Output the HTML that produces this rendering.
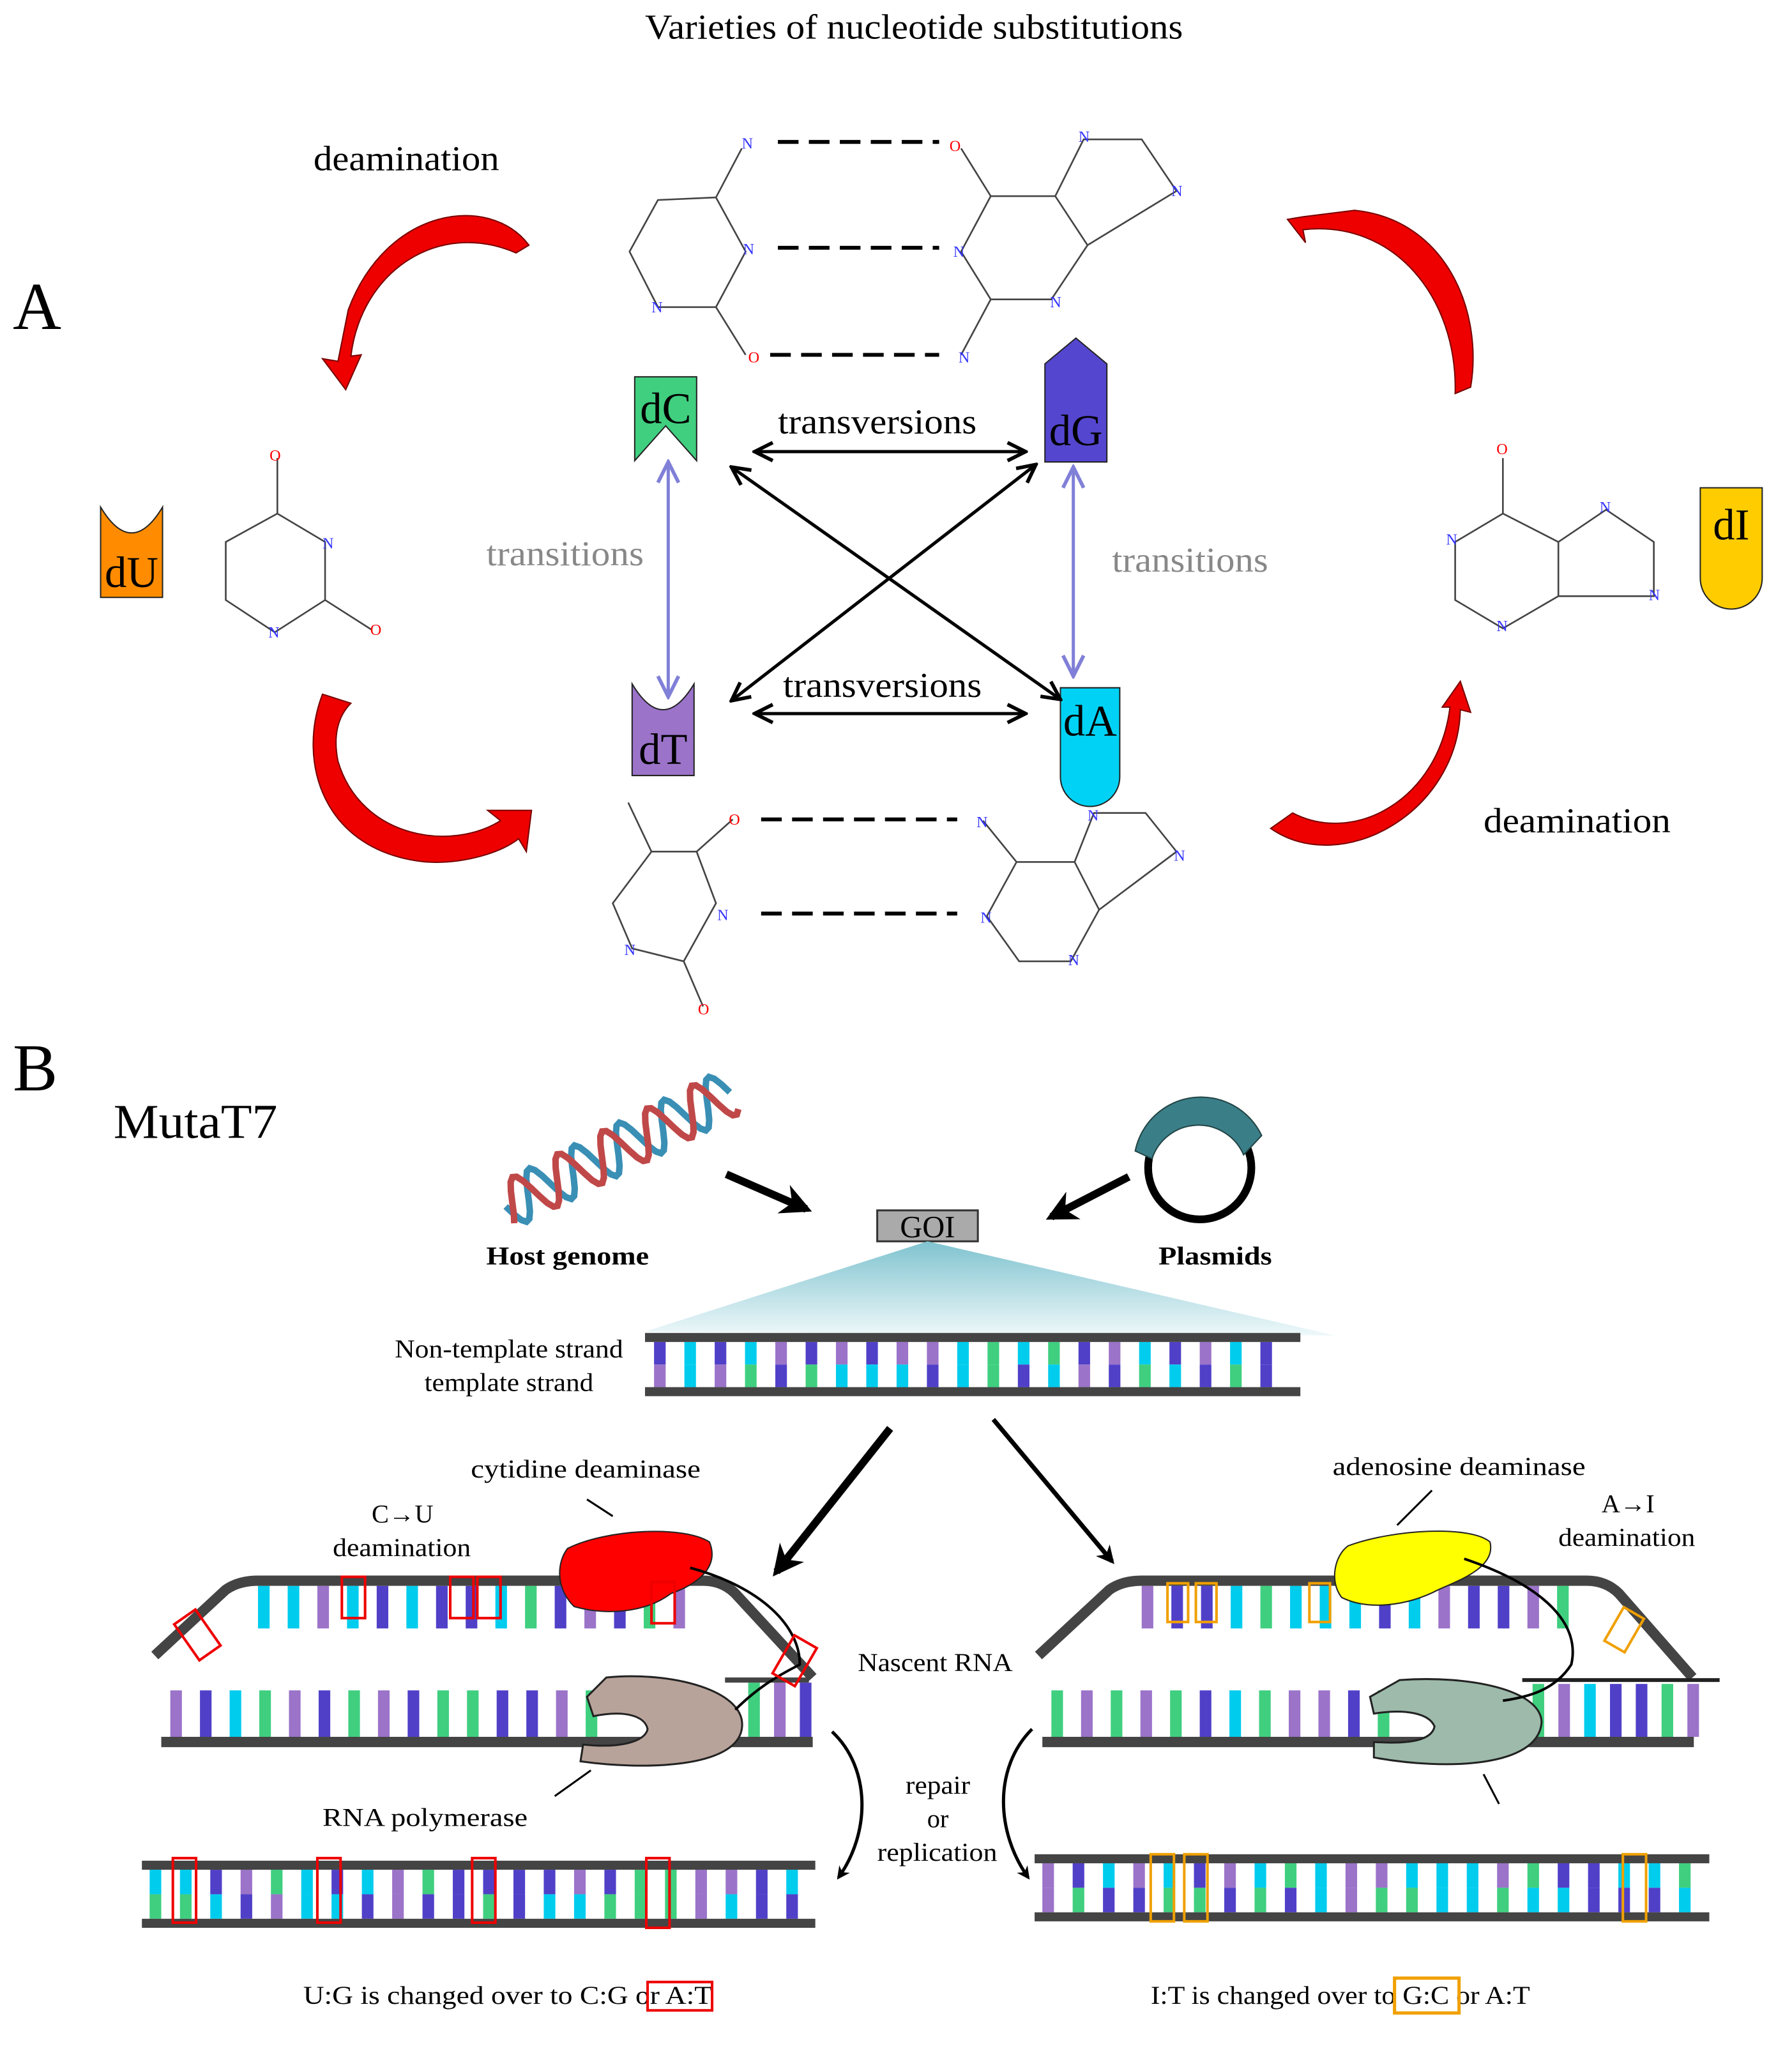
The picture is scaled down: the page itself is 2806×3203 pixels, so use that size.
<!DOCTYPE html>
<html><head><meta charset="utf-8"><style>
html,body{margin:0;padding:0;background:#fff;}
svg{display:block;}
text{font-family:"Liberation Serif",serif;}
</style></head><body>
<svg id="s" xmlns="http://www.w3.org/2000/svg" width="2806" height="3203" viewBox="0 0 1389.1 1585.6" preserveAspectRatio="none">
<defs>
<linearGradient id="tri" x1="0" y1="0" x2="0" y2="1"><stop offset="0" stop-color="#7fc3cf"/><stop offset="1" stop-color="#eef8fa"/></linearGradient>
<marker id="ah" viewBox="0 0 10 10" refX="9" refY="5" markerWidth="7" markerHeight="7" orient="auto-start-reverse"><path d="M1 1 L9 5 L1 9" fill="none" stroke="#000" stroke-width="1.6"/></marker>
<marker id="ab" viewBox="0 0 10 10" refX="9" refY="5" markerWidth="8" markerHeight="8" orient="auto-start-reverse"><path d="M1 1 L9 5 L1 9" fill="none" stroke="#8080d8" stroke-width="1.4"/></marker>
<marker id="af" viewBox="0 0 10 10" refX="8" refY="5" markerWidth="4" markerHeight="4" orient="auto"><path d="M0 0 L10 5 L0 10 L3 5z" fill="#000"/></marker>
</defs>
<text x="500" y="30" font-size="27" textLength="417" lengthAdjust="spacingAndGlyphs">Varieties of nucleotide substitutions</text>
<text x="10" y="255" font-size="52">A</text>
<text x="10" y="845" font-size="52">B</text>
<text x="243" y="132" font-size="27" textLength="144" lengthAdjust="spacingAndGlyphs">deamination</text>
<text x="1150" y="645" font-size="27" textLength="145" lengthAdjust="spacingAndGlyphs">deamination</text>

<g fill="#e00" stroke="#700" stroke-width="1">
<path d="M410,190 C380,150 300,160 270,240 L262,280 L250,278 L268,302 L280,275 L272,276 C280,210 340,170 400,196 Z"/>
<path d="M998,170 L1012,188 L1010,178 C1080,170 1130,230 1128,305 L1140,300 C1150,240 1120,170 1050,163 L1010,168 Z"/>
<path d="M250,538 C230,590 250,660 330,668 C360,670 390,660 402,650 L408,660 L412,628 L378,628 L388,636 C350,660 280,650 262,590 C258,570 262,555 272,545 Z"/>
<path d="M985,642 C1040,680 1130,630 1132,550 L1140,552 L1132,528 L1118,548 L1124,548 C1115,620 1050,655 1002,630 Z"/>
</g>

<g fill="none" stroke="#444" stroke-width="1.3">
<path d="M555,153 L510,155 L488,195 L510,238 L555,238 L578,195 Z M555,153 L575,115 M555,238 L578,275"/>
<path d="M768,152 L745,195 L768,232 L815,232 L843,190 L818,152 Z M768,152 L745,115 M768,232 L745,275 M818,152 L840,108 L885,108 L912,148 L843,190"/>
<path d="M215,398 L175,420 L175,465 L213,490 L252,465 L252,420 Z M215,398 L215,355 M252,465 L288,488"/>
<path d="M1165,398 L1128,420 L1128,465 L1165,487 L1208,462 L1208,420 Z M1165,398 L1165,355 M1208,420 L1245,395 L1282,420 L1282,462 L1208,462"/>
<path d="M505,660 L475,700 L490,735 L530,745 L555,700 L540,660 Z M505,660 L487,622 M540,660 L568,635 M530,745 L545,780"/>
<path d="M788,668 L765,710 L790,745 L830,745 L852,705 L833,668 Z M788,668 L762,636 M833,668 L848,630 L888,630 L912,660 L852,705"/>
</g>
<g font-size="12" font-family="Liberation Sans,sans-serif">
<text x="575" y="115" fill="#33f">N</text><text x="736" y="117" fill="#f00">O</text><text x="836" y="110" fill="#33f">N</text><text x="908" y="152" fill="#33f">N</text>
<text x="576" y="197" fill="#33f">N</text><text x="739" y="199" fill="#33f">N</text><text x="505" y="242" fill="#33f">N</text><text x="814" y="238" fill="#33f">N</text>
<text x="580" y="281" fill="#f00">O</text><text x="743" y="281" fill="#33f">N</text>
<text x="209" y="357" fill="#f00">O</text><text x="250" y="425" fill="#33f">N</text><text x="208" y="494" fill="#33f">N</text><text x="287" y="492" fill="#f00">O</text>
<text x="1160" y="352" fill="#f00">O</text><text x="1240" y="397" fill="#33f">N</text><text x="1121" y="422" fill="#33f">N</text><text x="1278" y="465" fill="#33f">N</text><text x="1160" y="489" fill="#33f">N</text>
<text x="565" y="639" fill="#f00">O</text><text x="556" y="713" fill="#33f">N</text><text x="484" y="740" fill="#33f">N</text><text x="541" y="786" fill="#f00">O</text>
<text x="757" y="641" fill="#33f">N</text><text x="843" y="636" fill="#33f">N</text><text x="910" y="667" fill="#33f">N</text><text x="760" y="715" fill="#33f">N</text><text x="828" y="748" fill="#33f">N</text>
</g>
<g stroke="#000" stroke-width="3" stroke-dasharray="16,8">
<line x1="603" y1="110" x2="728" y2="110"/><line x1="603" y1="192" x2="728" y2="192"/><line x1="597" y1="275" x2="728" y2="275"/>
<line x1="590" y1="635" x2="742" y2="635"/><line x1="590" y1="708" x2="742" y2="708"/>
</g>

<path d="M492,292 H540 V357 L516,330 L492,357 Z" fill="#3fcf7f" stroke="#222"/>
<text x="516" y="328" font-size="34" text-anchor="middle">dC</text>
<path d="M810,282 L834,262 L858,282 V358 H810 Z" fill="#5546d0" stroke="#222"/>
<text x="834" y="345" font-size="34" text-anchor="middle">dG</text>
<path d="M490,530 Q514,570 538,530 V601 H490 Z" fill="#9b73c9" stroke="#222"/>
<text x="514" y="592" font-size="34" text-anchor="middle">dT</text>
<path d="M822,533 H868 V602 A23,23 0 0 1 822,602 Z" fill="#00d2f5" stroke="#222"/>
<text x="845" y="570" font-size="34" text-anchor="middle">dA</text>
<path d="M78,393 Q102,433 126,393 V463 H78 Z" fill="#ff8c00" stroke="#222"/>
<text x="102" y="455" font-size="34" text-anchor="middle">dU</text>
<path d="M1318,378 H1366 V448 A24,24 0 0 1 1318,448 Z" fill="#ffcc00" stroke="#222"/>
<text x="1342" y="418" font-size="34" text-anchor="middle">dI</text>

<g stroke="#000" stroke-width="2.5" fill="none" marker-start="url(#ah)" marker-end="url(#ah)">
<line x1="585" y1="350" x2="795" y2="350"/><line x1="585" y1="553" x2="795" y2="553"/>
<line x1="567" y1="362" x2="822" y2="542"/><line x1="803" y1="360" x2="567" y2="543"/>
</g>
<g stroke="#8080d8" stroke-width="2.5" fill="none" marker-start="url(#ab)" marker-end="url(#ab)">
<line x1="518" y1="358" x2="518" y2="540"/><line x1="832" y1="362" x2="832" y2="524"/>
</g>
<text x="603" y="336" font-size="27" textLength="154" lengthAdjust="spacingAndGlyphs">transversions</text>
<text x="607" y="540" font-size="27" textLength="154" lengthAdjust="spacingAndGlyphs">transversions</text>
<text x="377" y="438" font-size="27" fill="#888" textLength="122" lengthAdjust="spacingAndGlyphs">transitions</text>
<text x="862" y="443" font-size="27" fill="#888" textLength="121" lengthAdjust="spacingAndGlyphs">transitions</text>

<text x="88" y="882" font-size="38" textLength="127" lengthAdjust="spacingAndGlyphs">MutaT7</text>
<g transform="translate(392,935) rotate(-27)" stroke-width="5" fill="none">
<path id="h1" stroke="#3a8fb5"/>
<path id="h2" stroke="#c04848"/>
</g>
<line x1="563" y1="910" x2="625" y2="937" stroke="#000" stroke-width="6" marker-end="url(#af)"/>
<line x1="875" y1="912" x2="815" y2="943" stroke="#000" stroke-width="6" marker-end="url(#af)"/>
<circle cx="930" cy="905" r="40" fill="none" stroke="#000" stroke-width="6"/>
<path d="M880,892 A52,52 0 0 1 978,880 L964,895 A38,38 0 0 0 893,898 Z" fill="#3a7e88" stroke="#244"/>
<rect x="680" y="938" width="78" height="24" fill="#aaa" stroke="#333" stroke-width="1.5"/>
<text x="719" y="959" font-size="24" text-anchor="middle">GOI</text>
<text x="377" y="980" font-size="20" font-weight="bold" textLength="126" lengthAdjust="spacingAndGlyphs">Host genome</text>
<text x="898" y="980" font-size="20" font-weight="bold" textLength="88" lengthAdjust="spacingAndGlyphs">Plasmids</text>
<path d="M719,962 L500,1032 L1035,1035 Z" fill="url(#tri)"/>
<text x="306" y="1052" font-size="20" textLength="177" lengthAdjust="spacingAndGlyphs">Non-template strand</text>
<text x="329" y="1078" font-size="20" textLength="131" lengthAdjust="spacingAndGlyphs">template strand</text>
<g id="bases"></g>
<rect x="500" y="1033" width="508" height="7" fill="#444"/>
<rect x="500" y="1075" width="508" height="7" fill="#444"/>

<line x1="690" y1="1107" x2="602" y2="1218" stroke="#000" stroke-width="6" marker-end="url(#af)"/>
<line x1="770" y1="1100" x2="862" y2="1210" stroke="#000" stroke-width="3.5" marker-end="url(#af)"/>

<path d="M120,1283 L175,1232 Q185,1225 200,1225 H545 Q560,1225 570,1235 L630,1300" fill="none" stroke="#444" stroke-width="8"/>
<rect x="125" y="1346" width="505" height="8" fill="#444"/>
<rect x="562" y="1300" width="65" height="4" fill="#444"/>
<path d="M440,1200 C470,1185 530,1182 550,1195 C558,1215 540,1228 520,1235 C500,1250 470,1252 445,1245 C430,1230 432,1210 440,1200Z" fill="#f00" stroke="#222"/>
<path d="M470,1300 C520,1295 580,1310 575,1340 C570,1370 500,1372 450,1365 L452,1352 C480,1355 500,1350 502,1340 C500,1330 485,1325 460,1330 L455,1315 Z" fill="#b8a39a" stroke="#222" stroke-width="1.5"/>
<path d="M535,1215 C590,1230 620,1260 620,1290 C600,1300 585,1310 570,1325" fill="none" stroke="#000" stroke-width="2"/>
<path d="M805,1283 L860,1232 Q870,1225 885,1225 H1230 Q1245,1225 1255,1235 L1312,1300" fill="none" stroke="#444" stroke-width="8"/>
<rect x="808" y="1346" width="505" height="8" fill="#444"/>
<line x1="1180" y1="1302" x2="1333" y2="1302" stroke="#222" stroke-width="3"/>
<path d="M1045,1198 C1080,1185 1140,1182 1155,1195 C1160,1215 1130,1225 1115,1232 C1090,1245 1060,1248 1040,1238 C1030,1225 1035,1205 1045,1198Z" fill="#ff0" stroke="#222"/>
<path d="M1085,1302 C1140,1298 1195,1310 1195,1335 C1192,1370 1120,1372 1065,1362 L1065,1350 C1095,1352 1110,1348 1112,1338 C1108,1328 1090,1324 1065,1328 L1062,1315 Z" fill="#9dbaaa" stroke="#222" stroke-width="1.5"/>
<path d="M1135,1208 C1200,1230 1225,1260 1218,1290 C1205,1310 1185,1315 1165,1318" fill="none" stroke="#000" stroke-width="2"/>
<rect x="110" y="1442" width="522" height="7" fill="#444"/>
<rect x="110" y="1487" width="522" height="7" fill="#444"/>
<rect x="802" y="1437" width="523" height="7" fill="#444"/>
<rect x="802" y="1482" width="523" height="7" fill="#444"/>
<g fill="none" stroke="#e00" stroke-width="2">
<rect x="134" y="1440" width="18" height="50"/><rect x="246" y="1440" width="18" height="50"/><rect x="366" y="1440" width="18" height="50"/><rect x="501" y="1440" width="18" height="54"/>
<rect x="265" y="1222" width="18" height="32"/><rect x="349" y="1222" width="18" height="32"/><rect x="370" y="1222" width="18" height="32"/><rect x="505" y="1226" width="18" height="32"/>
<rect x="143" y="1250" width="20" height="34" transform="rotate(-35 153 1267)"/><rect x="606" y="1270" width="20" height="34" transform="rotate(30 616 1287)"/>
</g>
<g fill="none" stroke="#f0a000" stroke-width="2">
<rect x="892" y="1437" width="18" height="52"/><rect x="918" y="1437" width="18" height="52"/><rect x="1258" y="1437" width="18" height="52"/>
<rect x="905" y="1227" width="16" height="30"/><rect x="927" y="1227" width="16" height="30"/><rect x="1015" y="1227" width="16" height="30"/>
<rect x="1250" y="1248" width="18" height="30" transform="rotate(30 1259 1263)"/>
</g>
<path d="M645,1342 C675,1370 675,1420 650,1455" fill="none" stroke="#000" stroke-width="2.5" marker-end="url(#af)"/>
<path d="M800,1340 C770,1370 772,1420 797,1455" fill="none" stroke="#000" stroke-width="2.5" marker-end="url(#af)"/>
<line x1="455" y1="1162" x2="475" y2="1175" stroke="#000" stroke-width="1.5"/>
<line x1="1110" y1="1155" x2="1083" y2="1182" stroke="#000" stroke-width="1.5"/>
<line x1="430" y1="1392" x2="458" y2="1372" stroke="#000" stroke-width="1.5"/>
<line x1="1150" y1="1375" x2="1162" y2="1398" stroke="#000" stroke-width="1.5"/>

<g font-size="20">
<text x="365" y="1145" textLength="178" lengthAdjust="spacingAndGlyphs">cytidine deaminase</text>
<text x="312" y="1180" text-anchor="middle">C→U</text>
<text x="258" y="1206" textLength="107" lengthAdjust="spacingAndGlyphs">deamination</text>
<text x="1033" y="1143" textLength="196" lengthAdjust="spacingAndGlyphs">adenosine deaminase</text>
<text x="1262" y="1172" text-anchor="middle">A→I</text>
<text x="1208" y="1198" textLength="106" lengthAdjust="spacingAndGlyphs">deamination</text>
<text x="665" y="1295" textLength="120" lengthAdjust="spacingAndGlyphs">Nascent RNA</text>
<text x="250" y="1415" textLength="159" lengthAdjust="spacingAndGlyphs">RNA polymerase</text>
<text x="702" y="1390" textLength="50" lengthAdjust="spacingAndGlyphs">repair</text>
<text x="727" y="1416" text-anchor="middle">or</text>
<text x="680" y="1442" textLength="93" lengthAdjust="spacingAndGlyphs">replication</text>
<text x="235" y="1553" textLength="317" lengthAdjust="spacingAndGlyphs">U:G is changed over to C:G or A:T</text>
<text x="892" y="1553" textLength="294" lengthAdjust="spacingAndGlyphs">I:T is changed over to G:C or A:T</text>
</g>
<rect x="502" y="1536" width="50" height="22" fill="none" stroke="#e00" stroke-width="2"/>
<rect x="1081" y="1533" width="50" height="27" fill="none" stroke="#f0a000" stroke-width="2.5"/>
</svg>
<script>
(function(){
var g=document.getElementById('bases'),ns='http://www.w3.org/2000/svg';
var C=['#00ccee','#5040c8','#9b73c9','#3fcf7f'];
var seed=7;function r(){seed=(seed*9301+49297)%233280;return seed/233280;}
function rect(x,y,w,h,c){var e=document.createElementNS(ns,'rect');e.setAttribute('x',x);e.setAttribute('y',y);e.setAttribute('width',w);e.setAttribute('height',h);e.setAttribute('fill',c);g.appendChild(e);}
function dsDNA(x0,x1,yt,yb,step){for(var x=x0;x<x1-8;x+=step){var a=C[Math.floor(r()*4)],b=C[Math.floor(r()*4)];var m=(yt+yb)/2;rect(x,yt,9,m-yt,a);rect(x,m,9,yb-m,b);}}
dsDNA(507,1005,1040,1075,23.5);
dsDNA(116,630,1449,1487,23.5);
dsDNA(808,1322,1444,1482,23.5);
function ss(x0,x1,yt,yb,step){for(var x=x0;x<x1;x+=step){rect(x,yt,9,yb-yt,C[Math.floor(r()*4)]);}}
ss(200,540,1229,1262,23);ss(885,1225,1229,1262,23);
ss(132,460,1310,1346,23);ss(815,1075,1310,1346,23);
ss(580,625,1304,1346,20);ss(1188,1310,1305,1346,20);
function helix(ph){var d='';for(var t=0;t<=195;t+=3){var y=18*Math.sin(t/39*2*Math.PI+ph);d+=(t?'L':'M')+t+','+y.toFixed(1);}return d;}
document.getElementById('h1').setAttribute('d',helix(0));
document.getElementById('h2').setAttribute('d',helix(2.2));
})();
</script>
</body></html>
